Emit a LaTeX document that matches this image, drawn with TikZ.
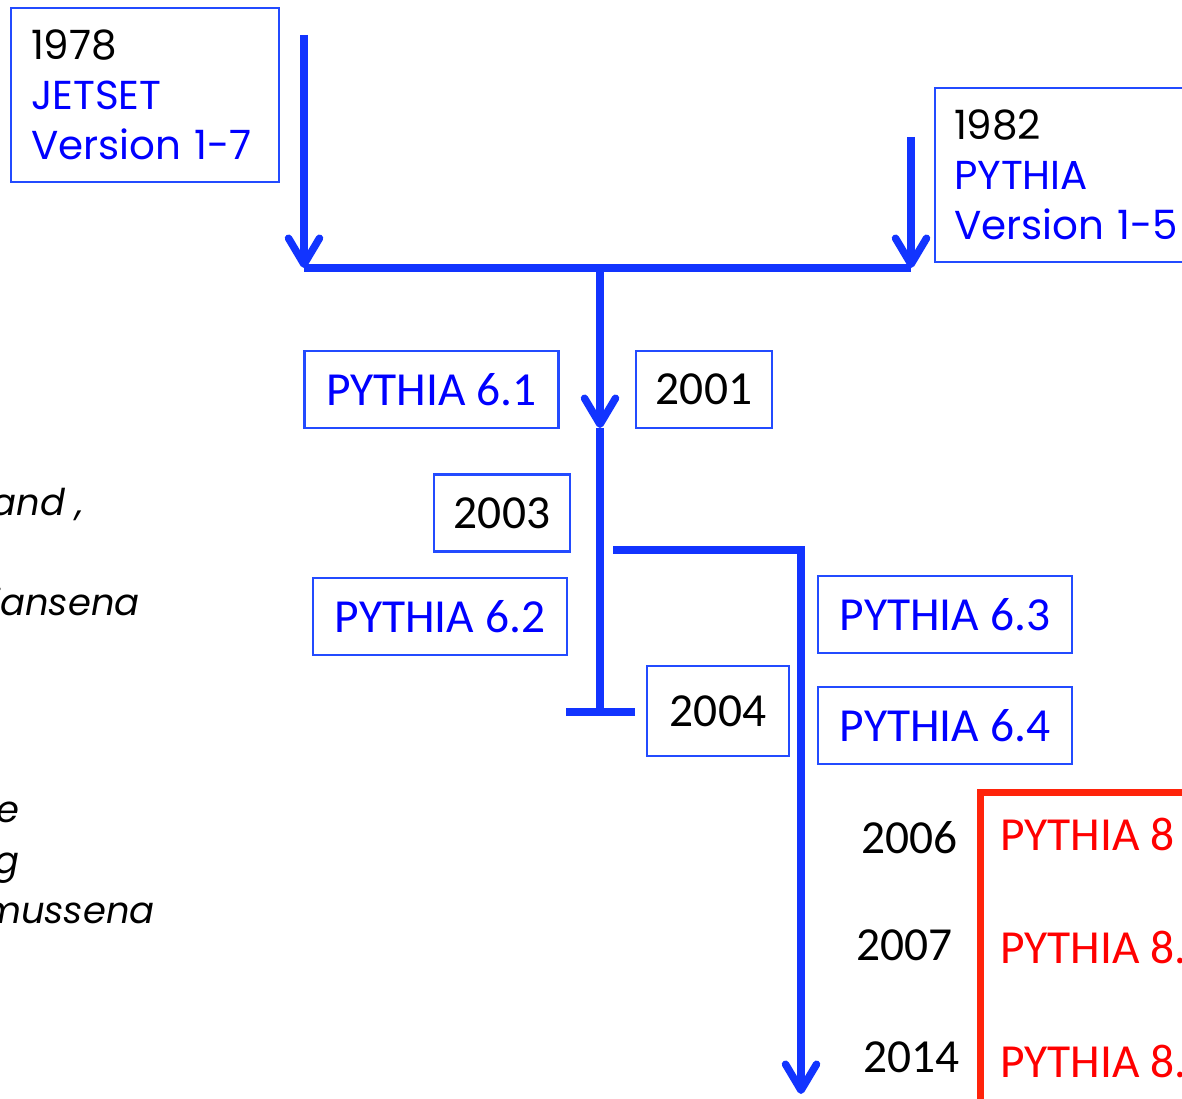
\documentclass[tikz,border=0pt]{standalone}
\usepackage{fontspec}
\setmainfont{Carlito}
\newfontfamily\comicfont{Poppins}
\usetikzlibrary{arrows.meta,positioning}

\definecolor{lineblue}{RGB}{18,52,255}
\definecolor{boxblue}{RGB}{35,75,255}
\definecolor{txtblue}{RGB}{0,0,255}
\definecolor{boxred}{RGB}{255,35,10}
\definecolor{txtred}{RGB}{255,0,0}

\begin{document}
\begin{tikzpicture}[x=0.02cm, y=-0.02cm,
  flow/.style={draw=lineblue, line width=0.15cm},
  tip/.style={-{Straight Barb[length=0.52cm, width=0.62cm, line cap=round, line join=round]}},
  frame/.style={draw=boxblue, line width=1.2pt, inner sep=0pt},
  rel/.style={frame, text=txtblue, font=\fontsize{27}{32}\selectfont, minimum width=5.08cm, minimum height=1.54cm},
  yr/.style={frame, text=black, font=\fontsize{27}{32}\selectfont, minimum width=2.72cm, minimum height=1.54cm},
  prog/.style={frame, anchor=north west, align=left, font=\comicfont\fontsize{23}{28.5}\selectfont, text width=4.7cm, inner xsep=0.33cm, minimum height=3.48cm},
  note/.style={anchor=base east, inner sep=0pt, font=\comicfont\itshape\fontsize{21}{28}\selectfont},
  yrlab/.style={anchor=base east, inner sep=0pt, font=\fontsize{27}{32}\selectfont},
  newlab/.style={anchor=base west, inner sep=0pt, text=txtred, font=\fontsize{27}{32}\selectfont}
]
\useasboundingbox (0,0) rectangle (1182,1098);
\clip (0,0) rectangle (1182,1098);

% the two ancestors
\node[prog] (jetset) at (10,7) {\hspace*{0.07cm}1978\\\hspace*{0.07cm}\textcolor{txtblue}{JETSET}\\\hspace*{0.07cm}\textcolor{txtblue}{Version 1-7}};
\node[prog] (pythia) at (934,87) {\hspace*{0.05cm}1982\\\hspace*{0.05cm}\textcolor{txtblue}{PYTHIA}\\\hspace*{0.05cm}\textcolor{txtblue}{Version 1-5}};

% Fortran releases
\node[rel] (p61) at (431.5,389.5) {PYTHIA 6.1};
\node[yr]  (y2001) at (704,389.5) {2001};
\node[yr]  (y2003) at (502,513) {2003};
\node[rel] (p62) at (440,616.5) {PYTHIA 6.2};
\node[yr, minimum width=2.84cm, minimum height=1.8cm] (y2004) at (718,711) {2004};
\node[rel] (p63) at (945,614.5) {PYTHIA 6.3};
\node[rel] (p64) at (945,725.5) {PYTHIA 6.4};

% C++ releases
\node[draw=boxred, line width=0.14cm, outer sep=0pt, anchor=north west,
      minimum width=8cm, minimum height=8cm] (p8box) at (980,792) {};
\node[newlab] (r80) at (1000,850) {PYTHIA 8};
\node[newlab] (r81) at (1000,963) {PYTHIA 8.};
\node[newlab] (r82) at (1000,1077) {PYTHIA 8.};
\node[yrlab] (y2006) at (958,853) {2006};
\node[yrlab] (y2007) at (953,960) {2007};
\node[yrlab] (y2014) at (960,1072) {2014};

% cut-off notes on the left
\node[note] (n1) at (84,515) {and ,};
\node[note] (n2) at (140,615) {iansena};
\node[note] (n3) at (20,822) {e};
\node[note] (n4) at (20,873) {g};
\node[note] (n5) at (155,923) {mussena};

% lines
\coordinate (jtop) at (304,35);
\coordinate (jend) at (304,268);
\coordinate (ptop) at (911,137);
\coordinate (pend) at (911,268);
\coordinate (merge) at (600,268);
\coordinate (mid) at (600,428);
\coordinate (stop) at (600,712);
\coordinate (barL) at (566,712);
\coordinate (barR) at (635,712);
\coordinate (bstart) at (613,550);
\coordinate (bturn) at (801,550);
\coordinate (bend) at (801,1094);

\draw[flow] (jend) -- (pend);
\draw[flow,tip] (jtop) -- (jend);
\draw[flow,tip] (ptop) -- (pend);
\draw[flow,tip] (merge) -- (mid);
\draw[flow] (mid) -- (stop);
\draw[flow] (barL) -- (barR);
\draw[flow,tip] (bstart) -- (bturn) -- (bend);

\end{tikzpicture}
\end{document}
